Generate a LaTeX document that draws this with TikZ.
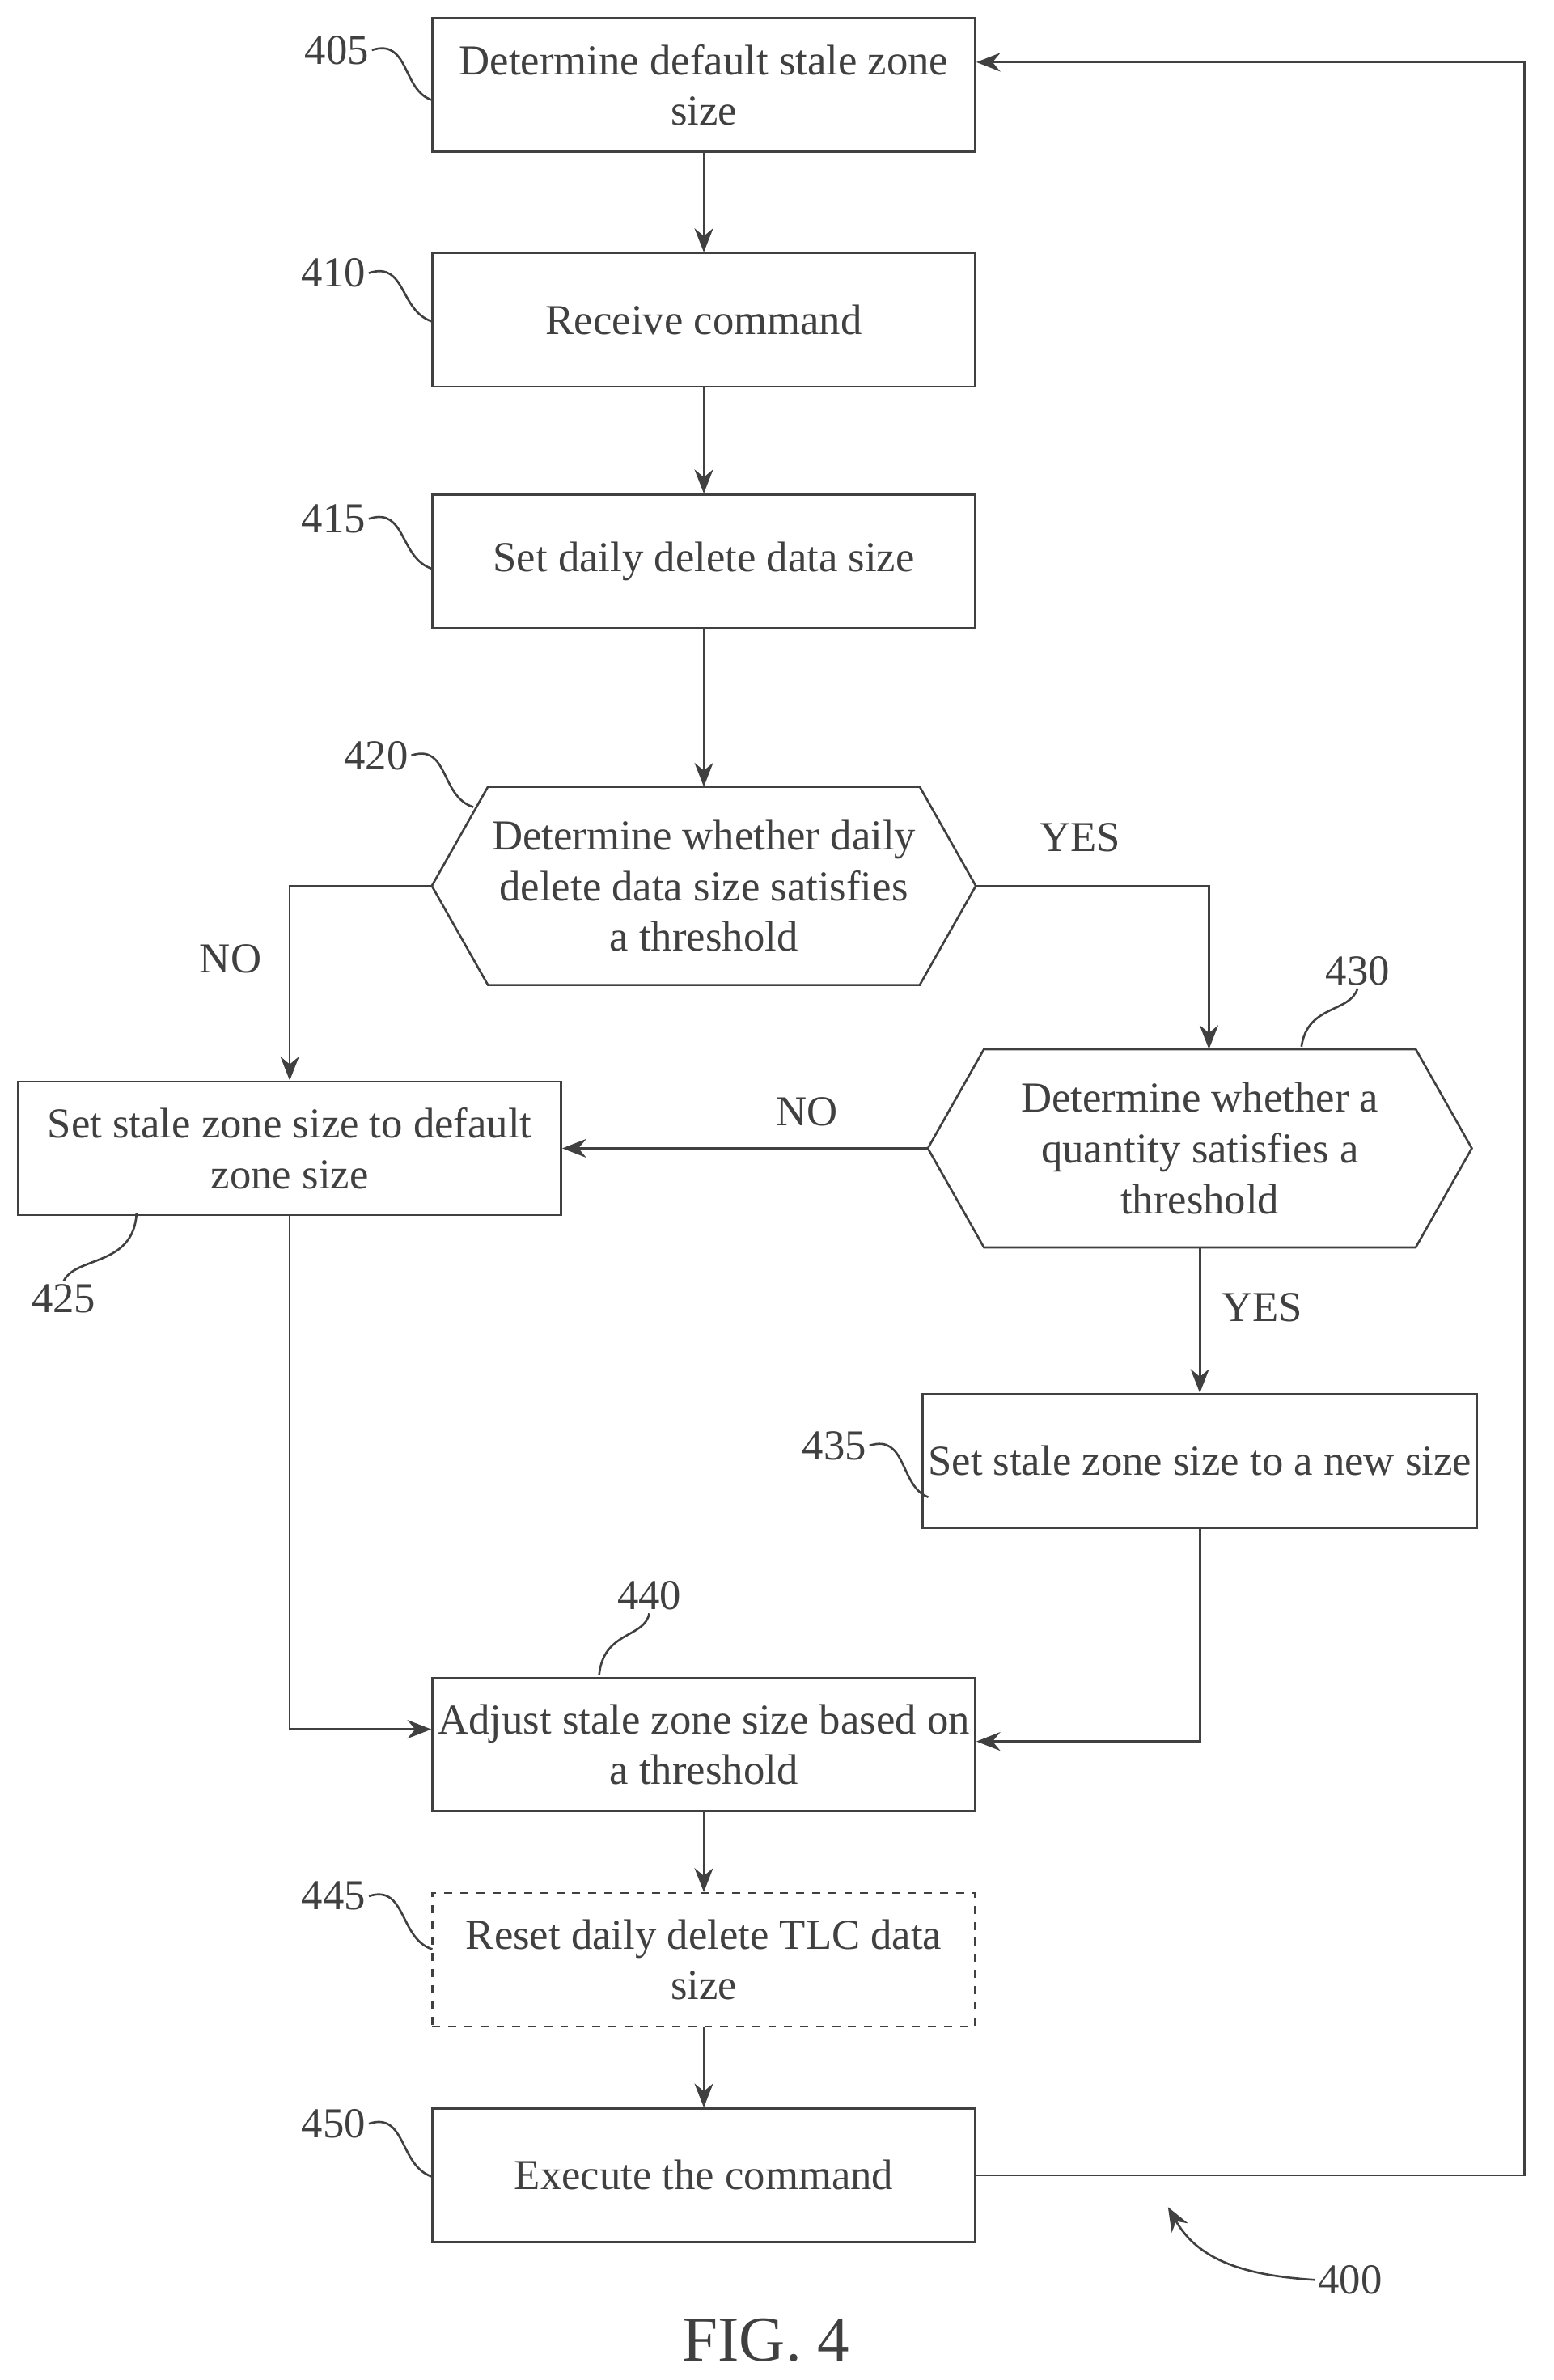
\documentclass[tikz,border=0pt]{standalone}
\usepackage{fontspec}
\setmainfont{Liberation Serif}
\usetikzlibrary{arrows.meta}
\tikzset{
    box/.style={draw,thick,minimum width=7.16cm,minimum height=1.76cm,align=center,inner sep=2pt},
    hexa/.style={minimum width=7.16cm,minimum height=2.6cm,align=center},
    flow/.style={thick,-{Stealth[length=9pt,width=7pt]}},
    tag/.style={inner sep=1pt},
    lead/.style={thick}
}
\newcommand{\hexdraw}[1]{\draw[thick] ([xshift=0.74cm]#1.north west) -- ([xshift=-0.74cm]#1.north east) -- (#1.east) -- ([xshift=-0.74cm]#1.south east) -- ([xshift=0.74cm]#1.south west) -- (#1.west) -- cycle;}
\begin{document}
\begin{tikzpicture}[x=0.02cm,y=-0.02cm,font=\fontsize{16}{19}\selectfont,color={black!75}]
    \useasboundingbox (0,0) rectangle (1024,1569);
    % boxes
    \node[box] (b405) at (464,56) {Determine default stale zone\\size};
    \node[box] (b410) at (464,211) {Receive command};
    \node[box] (b415) at (464,370) {Set daily delete data size};
    \node[hexa] (d420) at (464,584) {Determine whether daily\\delete data size satisfies\\a threshold};
    \hexdraw{d420}
    \node[box] (b425) at (191,757) {Set stale zone size to default\\zone size};
    \node[hexa] (d430) at (791,757) {Determine whether a\\quantity satisfies a\\threshold};
    \hexdraw{d430}
    \node[box] (b435) at (791,963) {Set stale zone size to a new size};
    \node[box] (b440) at (464,1150) {Adjust stale zone size based on\\a threshold};
    \node[box,dashed] (b445) at (464,1292) {Reset daily delete TLC data\\size};
    \node[box] (b450) at (464,1434) {Execute the command};
    % connectors
    \draw[flow] (b405) -- (b410);
    \draw[flow] (b410) -- (b415);
    \draw[flow] (b415) -- (d420);
    \draw[flow] (d420.west) -| (b425.north);
    \draw[flow] (d420.east) -| ([xshift=0.12cm]d430.north);
    \draw[flow] (d430.west) -- (b425.east);
    \draw[flow] (d430) -- (b435);
    \draw[flow] (b425.south) |- ([yshift=0.2cm]b440.west);
    \draw[flow] (b435.south) |- ([yshift=0.04cm]b440.east);
    \draw[flow] (b440) -- (b445);
    \draw[flow] (b445) -- (b450);
    \coordinate (loop) at (1005,1434);
    \draw[flow] (b450.east) -- (loop) |- ([yshift=0.3cm]b405.east);
    % branch labels
    \node[tag] (n1) at (152,632) {NO};
    \node[tag] (y1) at (712,552) {YES};
    \node[tag] (n2) at (532,733) {NO};
    \node[tag] (y2) at (832,862) {YES};
    % reference numerals
    \node[tag] (r405) at (222,33) {405};
    \draw[lead] (r405.east) .. controls (270,25) and (265,60) .. (285,66);
    \node[tag] (r410) at (220,180) {410};
    \draw[lead] (r410.east) .. controls (268,172) and (263,205) .. (285,212);
    \node[tag] (r415) at (220,342) {415};
    \draw[lead] (r415.east) .. controls (268,334) and (263,368) .. (285,375);
    \node[tag] (r420) at (248,498) {420};
    \draw[lead] (r420.east) .. controls (296,490) and (290,525) .. (312,532);
    \node[tag] (r430) at (895,640) {430};
    \draw[lead] (r430.south) .. controls (890,668) and (862,662) .. (858,690);
    \node[tag] (r425) at (42,856) {425};
    \draw[lead] (r425.north) .. controls (50,828) and (88,835) .. (90,800);
    \node[tag] (r435) at (550,953) {435};
    \draw[lead] (r435.east) .. controls (598,945) and (593,980) .. (612,987);
    \node[tag] (r440) at (428,1052) {440};
    \draw[lead] (r440.south) .. controls (425,1080) and (398,1075) .. (395,1104);
    \node[tag] (r445) at (220,1250) {445};
    \draw[lead] (r445.east) .. controls (268,1242) and (263,1278) .. (285,1285);
    \node[tag] (r450) at (220,1400) {450};
    \draw[lead] (r450.east) .. controls (268,1392) and (263,1428) .. (285,1435);
    \node[tag] (r400) at (890,1503) {400};
    \draw[flow] (r400.west) .. controls (820,1500) and (790,1490) .. (770,1455);
    \node[font=\fontsize{24}{28}\selectfont] (fig) at (505,1543) {FIG. 4};
\end{tikzpicture}
\end{document}
